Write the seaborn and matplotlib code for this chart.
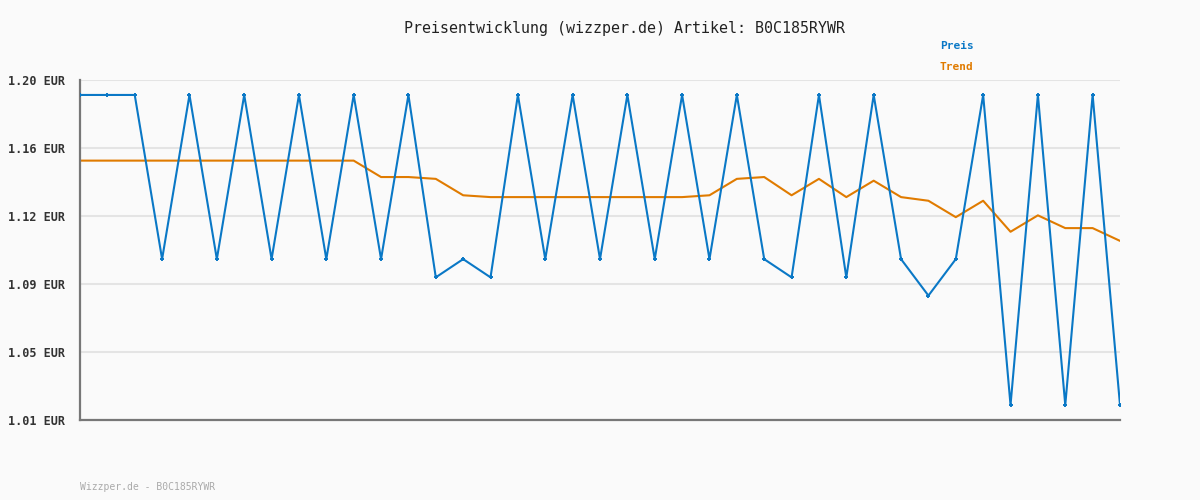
import numpy as np
import pandas as pd
import matplotlib
matplotlib.use("Agg")
import matplotlib.pyplot as plt
import seaborn as sns

# === Data ===
preis = [1.19, 1.19, 1.19, 1.10, 1.19, 1.10, 1.19, 1.10, 1.19, 1.10,
         1.19, 1.10, 1.19, 1.09, 1.10, 1.09, 1.19, 1.10, 1.19, 1.10,
         1.19, 1.10, 1.19, 1.10, 1.19, 1.10, 1.09, 1.19, 1.09, 1.19,
         1.10, 1.08, 1.10, 1.19, 1.02, 1.19, 1.02, 1.19, 1.02]
trend = [1.154, 1.154, 1.154, 1.154, 1.154, 1.154, 1.154, 1.154, 1.154, 1.154,
         1.154, 1.145, 1.145, 1.144, 1.135, 1.134, 1.134, 1.134, 1.134, 1.134,
         1.134, 1.134, 1.134, 1.135, 1.144, 1.145, 1.135, 1.144, 1.134, 1.143,
         1.134, 1.132, 1.123, 1.132, 1.115, 1.124, 1.117, 1.117, 1.110]
y_min, y_max = 1.0118, 1.1982
y_labels = ["1.01 EUR", "1.05 EUR", "1.09 EUR", "1.12 EUR", "1.16 EUR", "1.20 EUR"]
artikel = "B0C185RYWR"

BLUE = "#0a78c6"
ORANGE = "#e07b00"
BG = "#fafafa"

df = pd.DataFrame({"idx": np.arange(len(preis)), "Preis": preis, "Trend": trend})

sns.set_theme(style="white")
plt.rcParams["font.family"] = ["DejaVu Sans Mono", "DejaVu Sans"]

fig = plt.figure(figsize=(12, 5), dpi=100, facecolor=BG)
ax = fig.add_axes([80 / 1200, 80 / 500, 1040 / 1200, 340 / 500])
ax.set_facecolor(BG)

sns.lineplot(data=df, x="idx", y="Preis", ax=ax, color=BLUE, linewidth=1.5,
             marker="+", markersize=3.5, markeredgewidth=1.4, markeredgecolor=BLUE, zorder=3)
sns.lineplot(data=df, x="idx", y="Trend", ax=ax, color=ORANGE, linewidth=1.5, zorder=2)

ax.set_xlim(0, len(preis) - 1)
ax.set_ylim(y_min, y_max)
ax.set_xticks([])
ax.set_yticks(np.linspace(y_min, y_max, len(y_labels)))
ax.set_yticklabels(y_labels, fontsize=8.5, fontweight="bold", color="#333333")
ax.tick_params(axis="y", length=0, pad=11)
ax.set_xlabel("")
ax.set_ylabel("")

ax.grid(axis="y", color="#e4e4e4", linewidth=1.5, zorder=0)
ax.set_axisbelow(True)
for side in ["top", "right"]:
    ax.spines[side].set_visible(False)
for side in ["left", "bottom"]:
    ax.spines[side].set_color("#777777")
    ax.spines[side].set_linewidth(1.6)

fig.text(624 / 1200, 1 - 28 / 500, f"Preisentwicklung (wizzper.de) Artikel: {artikel}",
         ha="center", va="center", fontsize=10.8, color="#222222")
fig.text(940 / 1200, 1 - 46 / 500, "Preis", ha="left", va="center",
         fontsize=8, fontweight="bold", color=BLUE)
fig.text(940 / 1200, 1 - 67 / 500, "Trend", ha="left", va="center",
         fontsize=8, fontweight="bold", color=ORANGE)
fig.text(80 / 1200, 1 - 487 / 500, f"Wizzper.de - {artikel}", ha="left", va="center",
         fontsize=7, color="#aaaaaa")

fig.savefig("out.png", dpi=100, facecolor=BG)
